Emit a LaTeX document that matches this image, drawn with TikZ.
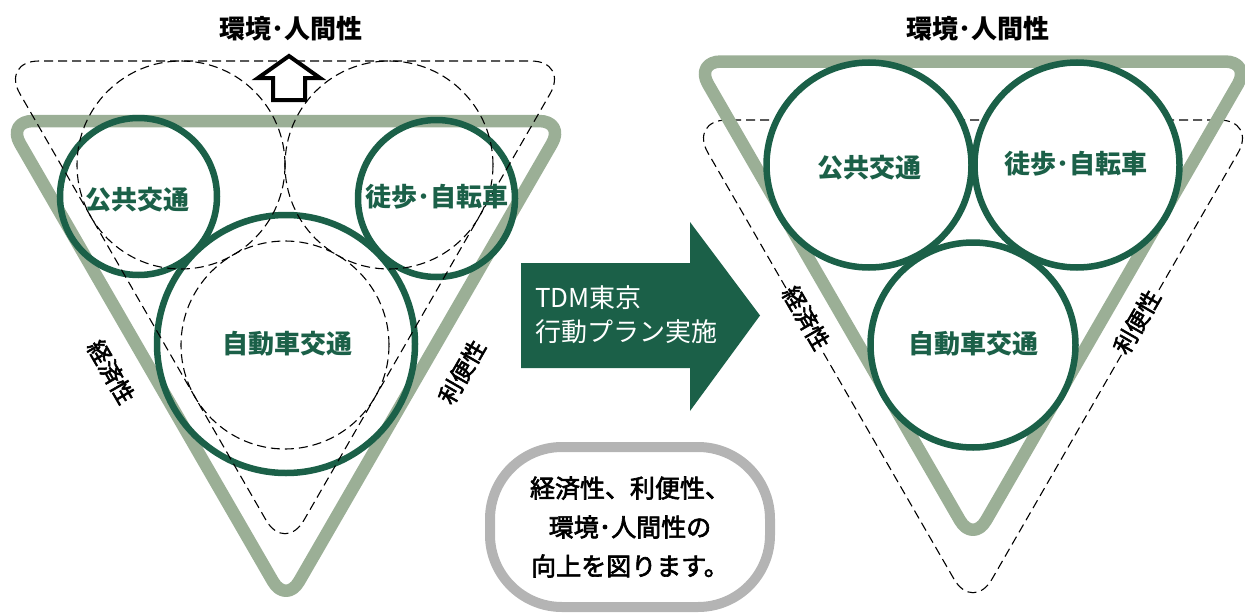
\documentclass[tikz,border=0pt]{standalone}
\usepackage{fontspec}
\setmainfont{Noto Sans CJK JP}
\newfontfamily\medfont[FakeBold=2.5]{Noto Sans CJK JP}
\definecolor{dgreen}{RGB}{27,96,72}
\definecolor{sage}{RGB}{155,175,150}
\definecolor{boxgray}{RGB}{180,180,180}
\begin{document}
\begin{tikzpicture}[x=1pt,y=-1pt,
  sagetri/.style={draw=sage,line width=12.5pt,rounded corners=26pt,line join=round},
  dashtri/.style={draw=black,line width=1.1pt,dash pattern=on 9pt off 5pt,rounded corners=38pt},
  dashcirc/.style={circle,draw=black,line width=1.1pt,dash pattern=on 9pt off 5pt,minimum size=208pt,inner sep=0pt},
  gcirc/.style={circle,draw=dgreen,line width=6.5pt,inner sep=0pt,text=dgreen,font=\bfseries\fontsize{26}{30}\selectfont},
  toplabel/.style={font=\bfseries\fontsize{26}{30}\selectfont,text=black,inner sep=0pt},
  sidelabel/.style={font=\medfont\fontsize{23}{27}\selectfont,text=black,inner sep=1pt},
]
\useasboundingbox (0,0) rectangle (1245,613);

% ---------- left panel ----------
\draw[sagetri] (286,121) -- (565,121) -- (286,604) -- (7,121) -- cycle;
\node[gcirc,minimum size=157pt] (lpub) at (138.5,196.5) {};
\node[gcirc,minimum size=157pt] (lwalk) at (436.5,198.5) {};
\node[gcirc,minimum size=258pt] (lcar) at (286,344) {};
\draw[dashtri] (285,61) -- (569,61) -- (285,553) -- (1,61) -- cycle;
\node[dashcirc] (dc1) at (181,165) {};
\node[dashcirc] (dc2) at (389,165) {};
\node[dashcirc] (dc3) at (285,345) {};
\draw[line width=4pt,fill=white,line join=miter] (289,56) -- (320,78) -- (305,78) -- (305,100) -- (273,100) -- (273,78) -- (258,78) -- cycle;
\node[toplabel] (ltop) at (291,29) {環境･人間性};
\node[gcirc,draw=none] (lpubt) at (137.5,200) {公共交通};
\node[gcirc,draw=none] (lwalkt) at (436.5,197) {徒歩･自転車};
\node[gcirc,draw=none] (lcart) at (287,344) {自動車交通};
\node[sidelabel,rotate=-60] (lecon) at (111,372) {経済性};
\node[sidelabel,rotate=60] (lconv) at (462,372) {利便性};

% ---------- middle ----------
\fill[dgreen] (521,263) -- (690,263) -- (690,222) -- (760,315.5) -- (690,411) -- (690,368) -- (521,368) -- cycle;
\node[anchor=west,align=left,text=white,font=\fontsize{26}{34}\selectfont,inner sep=0pt] (tdm) at (535,315) {TDM東京\\行動プラン実施};
\node[draw=boxgray,line width=10pt,rounded corners=72pt,minimum width=280pt,minimum height=160pt,align=center,font=\medfont\fontsize{25}{39}\selectfont,inner sep=0pt] (goal) at (630,527) {経済性、利便性、\\環境･人間性の\\向上を図ります。};

% ---------- right panel ----------
\draw[dashtri] (973,120) -- (1257,120) -- (973,612) -- (689,120) -- cycle;
\draw[sagetri] (973,61.5) -- (1251,61.5) -- (973,543) -- (695,61.5) -- cycle;
\node[gcirc,fill=white,minimum size=205pt] (rpub) at (869,165) {};
\node[gcirc,fill=white,minimum size=205pt] (rwalk) at (1077,165) {};
\node[gcirc,fill=white,minimum size=205pt] (rcar) at (973,345) {};
\node[gcirc,draw=none] (rpubt) at (869,168) {公共交通};
\node[gcirc,draw=none] (rwalkt) at (1076,164) {徒歩･自転車};
\node[gcirc,draw=none] (rcart) at (973,344) {自動車交通};
\node[toplabel] (rtop) at (978,29) {環境･人間性};
\node[sidelabel,rotate=-60,fill=white] (recon) at (806,318) {経済性};
\node[sidelabel,rotate=60,fill=white] (rconv) at (1137,322) {利便性};
\end{tikzpicture}
\end{document}
